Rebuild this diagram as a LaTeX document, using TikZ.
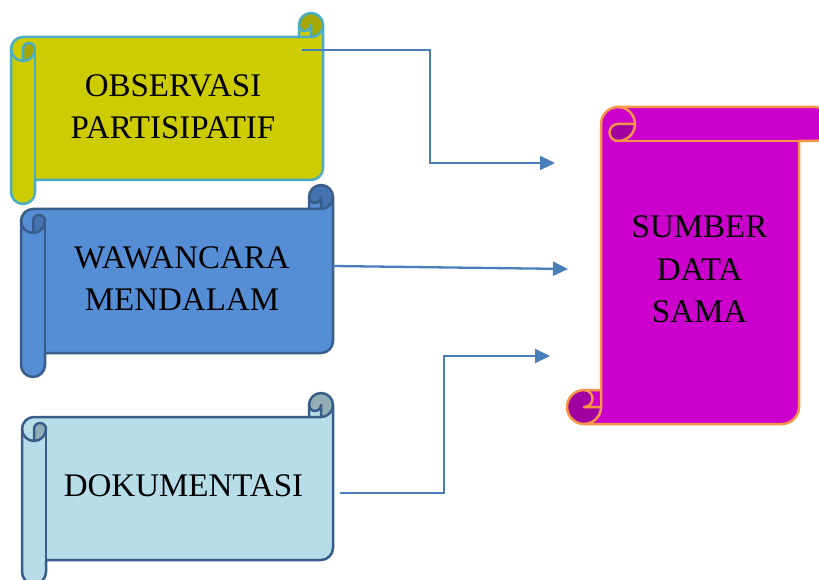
\documentclass[tikz,border=0pt]{standalone}
\usepackage{fontspec}
\setmainfont{Liberation Serif}
\usetikzlibrary{arrows.meta}
\definecolor{yel}{HTML}{CCCC00}
\definecolor{yeldark}{HTML}{A6A600}
\definecolor{yelline}{HTML}{4BACC6}
\definecolor{blu}{HTML}{558ED5}
\definecolor{bludark}{HTML}{4572B0}
\definecolor{bluline}{HTML}{385D8A}
\definecolor{lbl}{HTML}{B7DEE8}
\definecolor{lbldark}{HTML}{92ADB5}
\definecolor{mag}{HTML}{CC00CC}
\definecolor{magdark}{HTML}{A000A0}
\definecolor{magline}{HTML}{F79646}
\definecolor{arrowblue}{HTML}{4A7EBB}
% horizontal scroll: x0 y0 x1 y1 c fill dark line
\newcommand{\myhscroll}[8]{%
  \pgfmathsetmacro{\xa}{#1}\pgfmathsetmacro{\ya}{#2}%
  \pgfmathsetmacro{\xb}{#3}\pgfmathsetmacro{\yb}{#4}%
  \pgfmathsetmacro{\cc}{#5}\pgfmathsetmacro{\hh}{#5/2}\pgfmathsetmacro{\qq}{#5/4}%
  \fill[#6] (\xa,\ya+\cc+\hh) arc[start angle=180,end angle=270,radius=\hh]
    -- (\xb-\cc,\ya+\cc) -- (\xb-\cc,\ya+\hh) arc[start angle=180,end angle=360,radius=\hh]
    -- (\xb,\yb-\cc-\hh) arc[start angle=0,end angle=90,radius=\hh]
    -- (\xa+\cc,\yb-\cc) -- (\xa+\cc,\yb-\hh) arc[start angle=0,end angle=180,radius=\hh]
    -- cycle;
  \fill[#7] (\xb-\hh,\ya+\cc) arc[start angle=90,end angle=-180,radius=\hh]
    arc[start angle=180,end angle=0,radius=\qq] -- cycle;
  \fill[#7] (\xa+\hh,\ya+2*\cc) arc[start angle=90,end angle=0,radius=\hh]
    arc[start angle=0,end angle=-180,radius=\qq] -- cycle;
  \draw[#8,scrollline] (\xa,\ya+\cc+\hh) arc[start angle=180,end angle=270,radius=\hh]
    -- (\xb-\cc,\ya+\cc) -- (\xb-\cc,\ya+\hh) arc[start angle=180,end angle=360,radius=\hh]
    -- (\xb,\yb-\cc-\hh) arc[start angle=0,end angle=90,radius=\hh]
    -- (\xa+\cc,\yb-\cc) -- (\xa+\cc,\yb-\hh) arc[start angle=0,end angle=180,radius=\hh]
    -- cycle;
  \draw[#8,scrollline] (\xb-\cc,\ya+\cc) -- (\xb-\hh,\ya+\cc) arc[start angle=90,end angle=0,radius=\hh];
  \draw[#8,scrollline] (\xb-\hh,\ya+\cc) -- (\xb-\hh,\ya+\hh) arc[start angle=0,end angle=180,radius=\qq];
  \draw[#8,scrollline] (\xa+\hh,\ya+2*\cc) -- (\xa+\hh,\ya+\cc+\hh)
    arc[start angle=180,end angle=360,radius=\qq] arc[start angle=0,end angle=180,radius=\hh];
  \draw[#8,scrollline] (\xa+\cc,\ya+\cc+\hh) -- (\xa+\cc,\yb-\cc);
}
% vertical scroll: x0 y0 x1 y1 c fill dark line
\newcommand{\myvscroll}[8]{%
  \pgfmathsetmacro{\xa}{#1}\pgfmathsetmacro{\ya}{#2}%
  \pgfmathsetmacro{\xb}{#3}\pgfmathsetmacro{\yb}{#4}%
  \pgfmathsetmacro{\cc}{#5}\pgfmathsetmacro{\hh}{#5/2}\pgfmathsetmacro{\qq}{#5/4}%
  \fill[#6] (\xa+\cc,\yb-\cc) -- (\xa+\cc,\ya+\hh) arc[start angle=180,end angle=270,radius=\hh]
    -- (\xb-\hh,\ya) arc[start angle=270,end angle=450,radius=\hh]
    -- (\xb-\cc,\ya+\cc) -- (\xb-\cc,\yb-\hh) arc[start angle=0,end angle=90,radius=\hh]
    -- (\xa+\hh,\yb) arc[start angle=90,end angle=270,radius=\hh] -- cycle;
  \fill[#7] (\xa+\cc+\hh,\ya+\hh) -- (\xa+2*\cc,\ya+\hh) arc[start angle=0,end angle=90,radius=\hh]
    arc[start angle=90,end angle=270,radius=\qq] -- cycle;
  \fill[#7] (\xa+\hh,\yb-\cc) arc[start angle=270,end angle=450,radius=\qq]
    -- (\xa+\cc,\yb-\hh) arc[start angle=0,end angle=270,radius=\hh] -- cycle;
  \draw[#8,scrollline] (\xa+\cc,\yb-\cc) -- (\xa+\cc,\ya+\hh) arc[start angle=180,end angle=270,radius=\hh]
    -- (\xb-\hh,\ya) arc[start angle=270,end angle=450,radius=\hh]
    -- (\xb-\cc,\ya+\cc) -- (\xb-\cc,\yb-\hh) arc[start angle=0,end angle=90,radius=\hh]
    -- (\xa+\hh,\yb) arc[start angle=90,end angle=270,radius=\hh] -- cycle;
  \draw[#8,scrollline] (\xa+\cc+\hh,\ya) arc[start angle=270,end angle=450,radius=\hh]
    arc[start angle=90,end angle=270,radius=\qq] -- (\xa+2*\cc,\ya+\hh);
  \draw[#8,scrollline] (\xb-\cc,\ya+\cc) -- (\xa+\cc+\hh,\ya+\cc);
  \draw[#8,scrollline] (\xa+\hh,\yb-\cc) arc[start angle=270,end angle=450,radius=\qq] -- (\xa+\cc,\yb-\hh);
  \draw[#8,scrollline] (\xa+\hh,\yb) arc[start angle=90,end angle=0,radius=\hh] -- (\xa+\cc,\yb-\cc);
}
\begin{document}
\begin{tikzpicture}[x=1pt,y=1pt,yscale=-1,
  scrollline/.style={line width=2.5pt,line join=round},
  label/.style={font=\fontsize{33}{42}\selectfont,align=center,inner sep=0pt},
  arr/.style={draw=arrowblue,line width=2.3pt,-{Triangle[length=15pt,width=14pt]}}]
\useasboundingbox (0,0) rectangle (819,580);
\begin{scope}
\clip (0,0) rectangle (819,580);
\myhscroll{11}{13}{323}{204}{24}{yel}{yeldark}{yelline}
\myhscroll{21}{185}{333}{377}{24}{blu}{bludark}{bluline}
\myhscroll{22}{393}{333}{584}{24}{lbl}{lbldark}{bluline}
\myvscroll{567}{107}{833}{424}{34}{mag}{magdark}{magline}
\end{scope}
\node[label] (obs) at (173,107) {OBSERVASI\\PARTISIPATIF};
\node[label] (waw) at (182,278.5) {WAWANCARA\\MENDALAM};
\node[label] (dok) at (183.5,486) {DOKUMENTASI};
\node[label,font=\fontsize{33}{42.5}\selectfont] (sum) at (699.5,269.5) {SUMBER\\DATA\\SAMA};
\coordinate (o1) at (302,50);
\coordinate (t1) at (555,163);
\coordinate (o2) at (333,266);
\coordinate (t2) at (568,269);
\coordinate (o3) at (340,493);
\coordinate (t3) at (550,356);
\draw[arr] (o1) -- ++(128,0) |- (t1);
\draw[arr] (o2) -- (t2);
\draw[arr] (o3) -- ++(104,0) |- (t3);
\end{tikzpicture}
\end{document}
